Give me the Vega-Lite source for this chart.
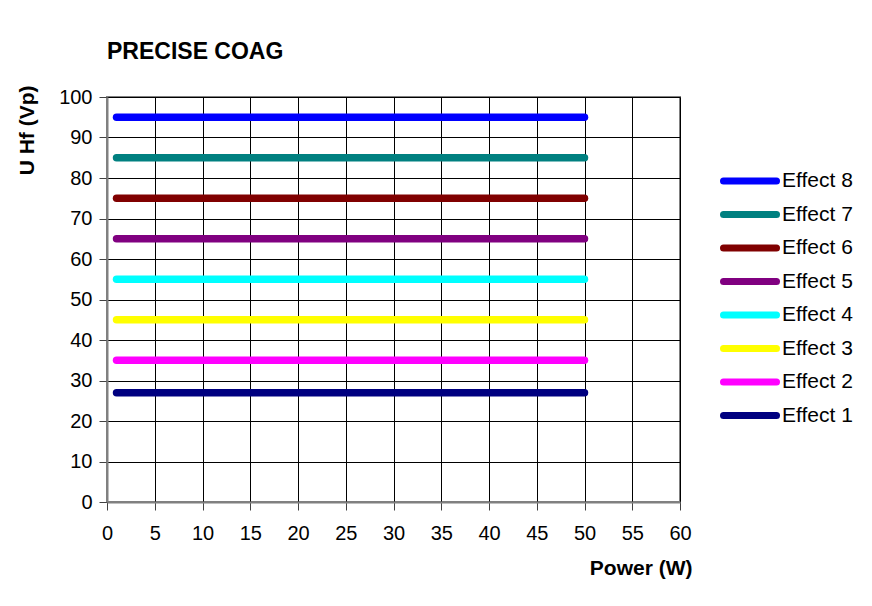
{
  "$schema": "https://vega.github.io/schema/vega-lite/v6.json",
  "width": 573,
  "height": 405,
  "autosize": {"type": "none"},
  "padding": {"left": 107, "top": 97, "right": 192, "bottom": 104},
  "background": "white",
  "title": {
    "text": "PRECISE COAG",
    "anchor": "start",
    "frame": "group",
    "font": "Liberation Sans",
    "fontSize": 23,
    "fontWeight": "bold",
    "color": "black",
    "baseline": "alphabetic",
    "offset": 3
  },
  "data": {
    "values": [
      {"power": 1, "u": 27, "effect": "Effect 1"},
      {"power": 50, "u": 27, "effect": "Effect 1"},
      {"power": 1, "u": 35, "effect": "Effect 2"},
      {"power": 50, "u": 35, "effect": "Effect 2"},
      {"power": 1, "u": 45, "effect": "Effect 3"},
      {"power": 50, "u": 45, "effect": "Effect 3"},
      {"power": 1, "u": 55, "effect": "Effect 4"},
      {"power": 50, "u": 55, "effect": "Effect 4"},
      {"power": 1, "u": 65, "effect": "Effect 5"},
      {"power": 50, "u": 65, "effect": "Effect 5"},
      {"power": 1, "u": 75, "effect": "Effect 6"},
      {"power": 50, "u": 75, "effect": "Effect 6"},
      {"power": 1, "u": 85, "effect": "Effect 7"},
      {"power": 50, "u": 85, "effect": "Effect 7"},
      {"power": 1, "u": 95, "effect": "Effect 8"},
      {"power": 50, "u": 95, "effect": "Effect 8"}
    ]
  },
  "mark": {"type": "line", "strokeWidth": 7.5, "strokeCap": "round"},
  "encoding": {
    "x": {
      "field": "power",
      "type": "quantitative",
      "scale": {"domain": [0, 60], "nice": false, "zero": false},
      "axis": {
        "title": "Power (W)",
        "values": [0, 5, 10, 15, 20, 25, 30, 35, 40, 45, 50, 55, 60],
        "labelFlush": false,
        "titleAnchor": null,
        "titleX": 585,
        "titleY": 72,
        "titleAlign": "right",
        "titleBaseline": "alphabetic",
        "labelPadding": 13,
        "tickSize": 8
      }
    },
    "y": {
      "field": "u",
      "type": "quantitative",
      "scale": {"domain": [0, 100], "nice": false},
      "axis": {
        "title": "U Hf (Vp)",
        "values": [0, 10, 20, 30, 40, 50, 60, 70, 80, 90, 100],
        "labelFlush": false,
        "titleAnchor": null,
        "titleAngle": 270,
        "titleX": -74,
        "titleY": -12,
        "titleAlign": "right",
        "titleBaseline": "alphabetic",
        "labelPadding": 7,
        "tickSize": 8
      }
    },
    "color": {
      "field": "effect",
      "type": "nominal",
      "scale": {
        "domain": ["Effect 8", "Effect 7", "Effect 6", "Effect 5", "Effect 4", "Effect 3", "Effect 2", "Effect 1"],
        "range": ["#0000ff", "#008080", "#800000", "#800080", "#00ffff", "#ffff00", "#ff00ff", "#000080"]
      },
      "legend": {
        "title": null,
        "orient": "none",
        "legendX": 613,
        "legendY": 70.5,
        "symbolType": "stroke",
        "symbolSize": 2809,
        "symbolStrokeWidth": 7,
        "clipHeight": 27,
        "rowPadding": 6.5,
        "labelOffset": 2,
        "labelFont": "Liberation Sans",
        "labelFontSize": 21,
        "labelColor": "black",
        "labelLimit": 200,
        "padding": 0,
        "encode": {"symbols": {"update": {"strokeCap": {"value": "round"}}}}
      }
    }
  },
  "config": {
    "view": {"stroke": "#808080", "strokeWidth": 2},
    "axis": {
      "grid": true,
      "gridColor": "black",
      "gridOpacity": 1,
      "gridWidth": 1,
      "domainColor": "#808080",
      "domainWidth": 2,
      "tickColor": "#404040",
      "tickWidth": 1,
      "labelFont": "Liberation Sans",
      "labelFontSize": 20,
      "labelColor": "black",
      "titleFont": "Liberation Sans",
      "titleFontSize": 21,
      "titleFontWeight": "bold",
      "titleColor": "black"
    }
  }
}
